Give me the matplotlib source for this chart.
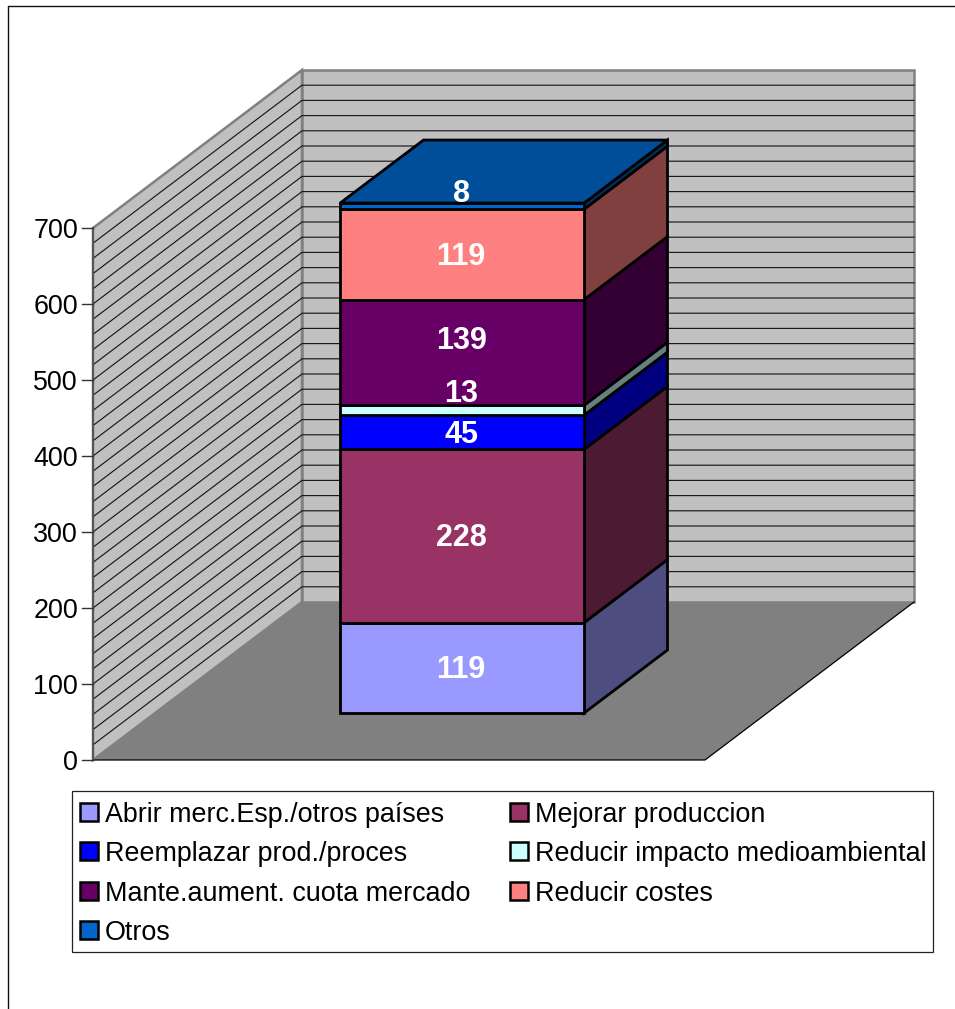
#!/usr/bin/env python
import matplotlib
matplotlib.use("Agg")
import matplotlib.pyplot as plt
from matplotlib.patches import Polygon, Rectangle

series_names = ["Abrir merc.Esp./otros países", "Mejorar produccion",
                "Reemplazar prod./proces", "Reducir impacto medioambiental",
                "Mante.aument. cuota mercado", "Reducir costes", "Otros"]
series_values = [119, 228, 45, 13, 139, 119, 8]
front_colors = ["#9999FF", "#993366", "#0000FF", "#CCFFFF", "#660066", "#FF8080", "#0066CC"]
side_colors = ["#4D4D80", "#4D1A33", "#000080", "#667F7F", "#330033", "#804040", "#003366"]
top_color = "#004D99"
y_ticks = [0, 100, 200, 300, 400, 500, 600, 700]
minor_step = 20

FONT = "Liberation Sans"
PX_PER_UNIT = 0.76
Y_ZERO_PX = 760.0


def project(x, value, depth=0.0):
  # oblique projection, depth 0 is the front of the box and 1 the back wall
  return (x + 209.0 * depth, value + 158.0 / PX_PER_UNIT * depth)


def face(ax, points, color, edge="black", lw=2.0, zorder=2):
  ax.add_patch(Polygon(points, closed=True, facecolor=color, edgecolor=edge,
                       linewidth=lw, joinstyle="miter", zorder=zorder))


def draw_box(ax, left, right, ymax):
  # walls
  face(ax, [project(left, 0), project(left, ymax), project(left, ymax, 1), project(left, 0, 1)],
       "#C0C0C0", edge="#808080", lw=1.8, zorder=1)
  face(ax, [project(left, 0, 1), project(left, ymax, 1), project(right, ymax, 1), project(right, 0, 1)],
       "#C0C0C0", edge="#808080", lw=1.8, zorder=1)

  # grid on both walls
  for v in range(minor_step, ymax, minor_step):
    xs, ys = zip(project(left, v), project(left, v, 1), project(right, v, 1))
    ax.plot(xs, ys, color="#1A1A1A", lw=0.85, zorder=1.5, solid_joinstyle="miter")

  # floor
  face(ax, [project(left, 0), project(left, 0, 1), project(right, 0, 1), project(right, 0)],
       "#808080", edge="none", lw=0, zorder=1.6)
  xs, ys = zip(project(left, 0), project(right, 0), project(right, 0, 1))
  ax.plot(xs, ys, color="black", lw=0.9, zorder=1.7)

  # value axis
  xs, ys = zip(project(left, 0), project(left, ymax))
  ax.plot(xs, ys, color="#555555", lw=1.4, zorder=1.8)
  for v in y_ticks:
    ax.plot([left - 11, left], [v, v], color="#333333", lw=1.0, zorder=1.8)
    ax.text(left - 15, v, str(v), ha="right", va="center_baseline",
            fontsize=19.4, family=FONT, color="black")


def draw_stack(ax, left, right, d0, d1):
  label_lift = [1, 1, 1, 20, 15, 1, 16]
  bottom = 0
  for i, val in enumerate(series_values):
    top = bottom + val
    face(ax, [project(right, bottom, d0), project(right, top, d0),
              project(right, top, d1), project(right, bottom, d1)], side_colors[i], zorder=3)
    face(ax, [project(left, bottom, d0), project(right, bottom, d0),
              project(right, top, d0), project(left, top, d0)], front_colors[i], zorder=4)
    bottom = top
  face(ax, [project(left, bottom, d0), project(right, bottom, d0),
            project(right, bottom, d1), project(left, bottom, d1)], top_color, zorder=4)

  # labels sit on a layer of their own so the bar faces never cover them
  bottom = 0
  xc = project((left + right) / 2.0, 0, d0)[0] - 1
  for i, val in enumerate(series_values):
    yc = project(0, bottom + val / 2.0, d0)[1] + label_lift[i] / PX_PER_UNIT
    ax.text(xc, yc, str(val), ha="center", va="center_baseline", fontsize=22,
            fontweight="bold", family=FONT, color="white", zorder=6)
    bottom += val


def to_value(y_px):
  return (Y_ZERO_PX - y_px) / PX_PER_UNIT


def draw_legend(ax):
  top, bot = to_value(791), to_value(952)
  ax.add_patch(Rectangle((72, bot), 861, top - bot, facecolor="white", edgecolor="#222222",
                         linewidth=0.9, zorder=5))
  rows = [812, 851, 891, 930]
  for i, name in enumerate(series_names):
    x = 80 if i % 2 == 0 else 510
    y = rows[i // 2]
    ax.add_patch(Rectangle((x, to_value(y + 9)), 18, 18 / PX_PER_UNIT, facecolor=front_colors[i],
                           edgecolor="black", linewidth=1.8, zorder=6))
    ax.text(x + 24.5, to_value(y), name, ha="left", va="center_baseline", fontsize=19.4,
            family=FONT, color="black", zorder=6)


def main():
  fig = plt.figure(figsize=(9.55, 10.09), dpi=100, facecolor="white")
  ax = fig.add_axes([0, 0, 1, 1])
  ax.set_xlim(0, 955)
  ax.set_ylim(to_value(1009), to_value(0))
  ax.axis("off")

  # outer frame of the chart area, open on the right and at the bottom
  ax.plot([8, 8, 955], [to_value(1009), to_value(6.5), to_value(6.5)], color="#111111", lw=1.0)

  draw_box(ax, 93, 705, 700)
  draw_stack(ax, 278, 522, 47.0 / 158, 110.0 / 158)
  draw_legend(ax)

  fig.savefig("out.png", dpi=100)


if __name__ == "__main__":
  main()
